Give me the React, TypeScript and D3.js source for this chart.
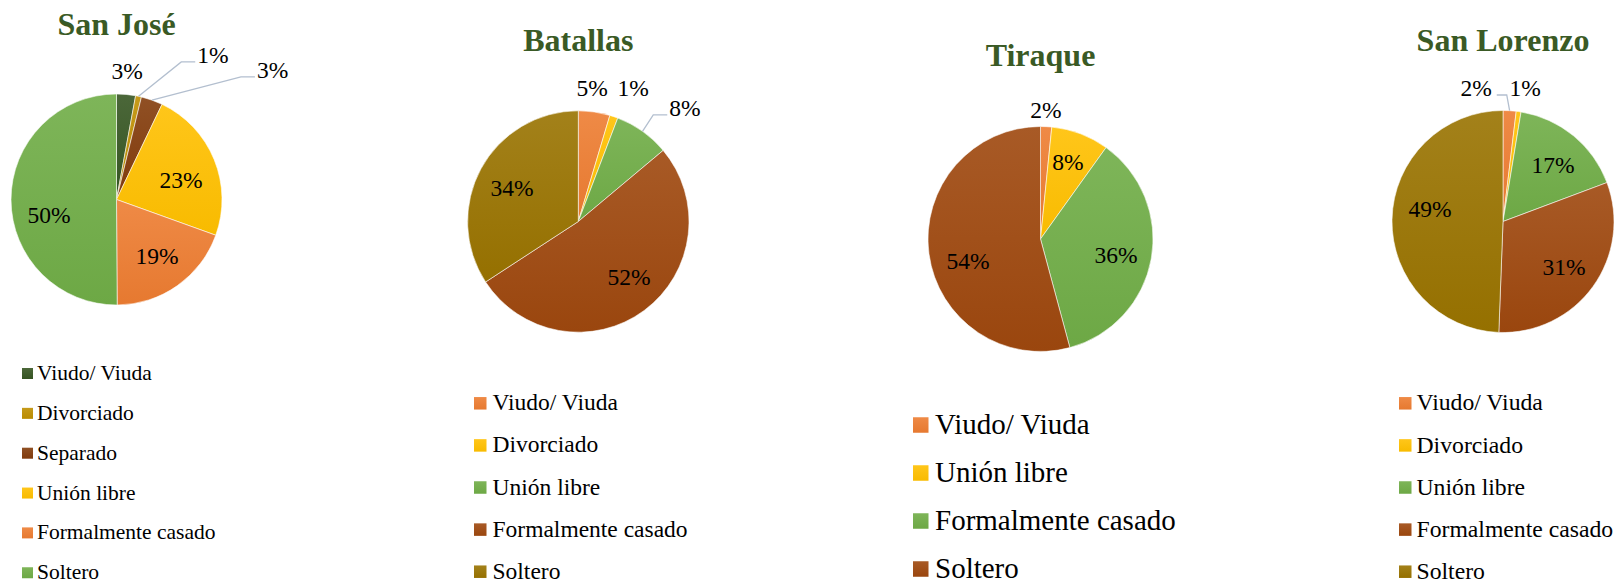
import React from "react";
import * as d3 from "d3";

// ---------- DATA ----------
const sanJoseCategories = ["Viudo/ Viuda", "Divorciado", "Separado", "Unión libre", "Formalmente casado", "Soltero"];
const sanJoseValues = [2.9, 0.9, 3.3, 23.4, 19.4, 50.1];

const batallasCategories = ["Viudo/ Viuda", "Divorciado", "Unión libre", "Formalmente casado", "Soltero"];
const batallasValues = [4.6, 1.2, 8.1, 51.9, 34.2];

const tiraqueCategories = ["Viudo/ Viuda", "Unión libre", "Formalmente casado", "Soltero"];
const tiraqueValues = [1.6, 8.3, 35.9, 54.2];

const sanLorenzoCategories = ["Viudo/ Viuda", "Divorciado", "Unión libre", "Formalmente casado", "Soltero"];
const sanLorenzoValues = [1.9, 0.7, 16.7, 31.3, 49.4];

const titles = ["San José", "Batallas", "Tiraque", "San Lorenzo"];

// ---------- STYLE / LAYOUT ----------
const colorsSJ = ["#375623", "#bf8f00", "#843c0c", "#ffc000", "#ed7d31", "#70ad47"];
const colorsB = ["#ed7d31", "#ffc000", "#70ad47", "#9e480e", "#997300"];
const colorsT = ["#ed7d31", "#ffc000", "#70ad47", "#9e480e"];
const colorsSL = ["#ed7d31", "#ffc000", "#70ad47", "#9e480e", "#997300"];

type Place = { deg: number; f: number; leader?: boolean } | null;

const charts = [
  {
    title: titles[0], cats: sanJoseCategories, vals: sanJoseValues, colors: colorsSJ,
    cx: 116.5, cy: 199.5, r: 105.5, titleY: 35,
    legX: 22, legTextX: 37, legY0: 373.5, legStep: 39.85, legFs: 21.5, sq: 11,
    places: [
      { deg: 4.7, f: 1.225 },
      { deg: 33.7, f: 1.647, leader: true },
      { deg: 50.3, f: 1.923, leader: true },
      { deg: 73.2, f: 0.64 },
      { deg: 144.4, f: 0.66 },
      { deg: 257, f: 0.657 },
    ] as Place[],
  },
  {
    title: titles[1], cats: batallasCategories, vals: batallasValues, colors: colorsB,
    cx: 578.3, cy: 221.5, r: 110.7, titleY: 50.7,
    legX: 474, legTextX: 492.5, legY0: 403.3, legStep: 42.1, legFs: 23.5, sq: 12.5,
    places: [
      { deg: 5.9, f: 1.212 },
      { deg: 22.3, f: 1.304 },
      { deg: 43.2, f: 1.407, leader: true },
      { deg: 137.6, f: 0.679 },
      { deg: 296.8, f: 0.671 },
    ] as Place[],
  },
  {
    title: titles[2], cats: tiraqueCategories, vals: tiraqueValues, colors: colorsT,
    cx: 1040.5, cy: 239, r: 112.5, titleY: 65.7,
    legX: 913, legTextX: 935, legY0: 425, legStep: 48, legFs: 29, sq: 15.5,
    places: [
      { deg: 2.4, f: 1.147 },
      { deg: 19.65, f: 0.727 },
      { deg: 102, f: 0.686 },
      { deg: 253, f: 0.674 },
    ] as Place[],
  },
  {
    title: titles[3], cats: sanLorenzoCategories, vals: sanLorenzoValues, colors: colorsSL,
    cx: 1503, cy: 221.5, r: 111, titleY: 50.7,
    legX: 1399, legTextX: 1416.5, legY0: 403.3, legStep: 42.1, legFs: 23.7, sq: 12.5,
    places: [
      { deg: -11.4, f: 1.227, leader: true },
      { deg: 9.4, f: 1.219 },
      { deg: 41.5, f: 0.68 },
      { deg: 126.7, f: 0.686 },
      { deg: 279.7, f: 0.667 },
    ] as Place[],
  },
];

const FONT = "'Liberation Serif', 'Times New Roman', serif";
const LABEL_FS = 23.5;
const TITLE_COLOR = "#3a5a25";
const LEADER = "#b3bfcf";

function light(c: string) {
  return d3.interpolateRgb(c, "#ffffff")(0.1);
}
function dark(c: string) {
  return d3.color(c)!.darker(0.08).formatHex();
}

function Pie({ ch, ci }: { ch: (typeof charts)[number]; ci: number }) {
  const pie = d3.pie<number>().sort(null).value((d) => d).startAngle(0).endAngle(2 * Math.PI);
  const arcs = pie(ch.vals);
  const total = d3.sum(ch.vals);
  const arc = d3.arc<d3.PieArcDatum<number>>().innerRadius(0).outerRadius(ch.r);
  const fmt = d3.format(".0%");

  return (
    <g>
      <defs>
        {ch.colors.map((c, i) => (
          <linearGradient key={i} id={`g${ci}-${i}`} x1="0" y1="0" x2="0" y2="1">
            <stop offset="0" stopColor={light(c)} />
            <stop offset="1" stopColor={dark(c)} />
          </linearGradient>
        ))}
      </defs>
      <text x={ch.cx} y={ch.titleY} textAnchor="middle" fontFamily={FONT} fontWeight="bold" fontSize={32} fill={TITLE_COLOR}>
        {ch.title}
      </text>
      <g transform={`translate(${ch.cx},${ch.cy})`}>
        {arcs.map((a, i) => (
          <path key={i} d={arc(a) || ""} fill={`url(#g${ci}-${i})`} stroke="#ffffff" strokeWidth={0.8} strokeOpacity={0.7} />
        ))}
      </g>
      {arcs.map((a, i) => {
        const p = ch.places[i];
        const mid = (a.startAngle + a.endAngle) / 2;
        const ang = p ? (p.deg * Math.PI) / 180 : mid;
        const rho = p ? p.f * ch.r : 0.67 * ch.r;
        const lx = ch.cx + rho * Math.sin(ang);
        const ly = ch.cy - rho * Math.cos(ang);
        const txt = fmt(a.data / total);
        let leader = null;
        if (p && p.leader) {
          const sx = ch.cx + ch.r * Math.sin(mid);
          const sy = ch.cy - ch.r * Math.cos(mid);
          const w = (txt.length - 1) * 0.5 * LABEL_FS + 0.833 * LABEL_FS;
          const right = lx > sx;
          const ex = right ? lx - w / 2 - 2 : lx + w / 2 + 5;
          const ey = ly + 7;
          const bx = right ? ex - 14 : ex + 10;
          leader = (
            <polyline points={`${sx},${sy} ${bx},${ey} ${ex},${ey}`} fill="none" stroke={LEADER} strokeWidth={1.3} />
          );
        }
        return (
          <g key={`l${i}`}>
            {leader}
            <text x={lx} y={ly} dy="0.34em" textAnchor="middle" fontFamily={FONT} fontSize={LABEL_FS} fill="#000">
              {txt}
            </text>
          </g>
        );
      })}
      {ch.cats.map((c, i) => {
        const y = ch.legY0 + i * ch.legStep;
        return (
          <g key={`lg${i}`}>
            <rect x={ch.legX} y={y - ch.sq / 2} width={ch.sq} height={ch.sq} fill={`url(#g${ci}-${i})`} />
            <text x={ch.legTextX} y={y} dy="0.3em" fontFamily={FONT} fontSize={ch.legFs} fill="#000">
              {c}
            </text>
          </g>
        );
      })}
    </g>
  );
}

export default function App() {
  return (
    <svg width={1618} height={582} style={{ position: "absolute", left: 0, top: 0, background: "#fff" }}>
      <rect width={1618} height={582} fill="#ffffff" />
      {charts.map((ch, ci) => (
        <Pie key={ci} ch={ch} ci={ci} />
      ))}
    </svg>
  );
}
